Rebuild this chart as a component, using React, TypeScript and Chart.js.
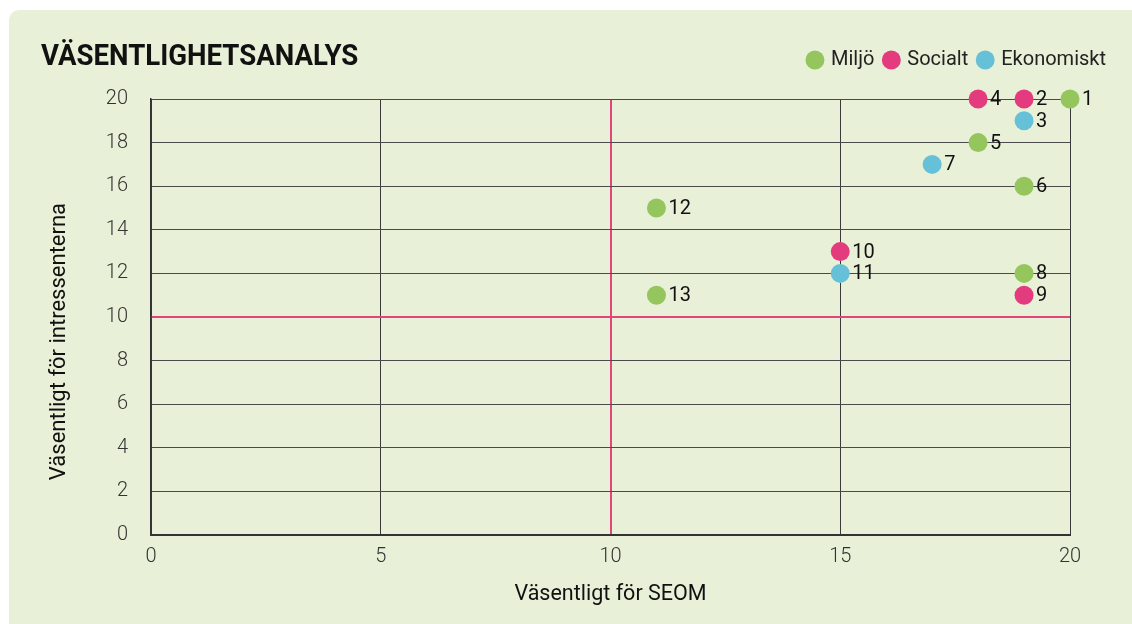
import React, { useEffect, useRef } from "react";
import { Chart, registerables } from "chart.js";

Chart.register(...registerables);

// ---- data ----
const CATEGORIES = ["Miljö", "Socialt", "Ekonomiskt"];
const COLORS = ["#95c55d", "#e43b7e", "#66c0d8"];

const MILJO_IDS = [1, 5, 6, 8, 12, 13];
const MILJO_X = [20, 18, 19, 19, 11, 11];
const MILJO_Y = [20, 18, 16, 12, 15, 11];

const SOCIALT_IDS = [2, 4, 9, 10];
const SOCIALT_X = [19, 18, 19, 15];
const SOCIALT_Y = [20, 20, 11, 13];

const EKONOMISKT_IDS = [3, 7, 11];
const EKONOMISKT_X = [19, 17, 15];
const EKONOMISKT_Y = [19, 17, 12];

const AXIS_MIN = 0;
const AXIS_MAX = 20;
const X_STEP = 5;
const Y_STEP = 2;
const THRESHOLD = 10;

const TITLE = "VÄSENTLIGHETSANALYS";
const X_TITLE = "Väsentligt för SEOM";
const Y_TITLE = "Väsentligt för intressenterna";

const PANEL_BG = "#e8f1d8";
const PINK_LINE = "#e0457b";
const GRID = "#3a3a3a";

const toPoints = (xs: number[], ys: number[], ids: number[]) =>
  xs.map((x, i) => ({ x, y: ys[i], id: ids[i] }));

const pointLabels = {
  id: "pointLabels",
  afterDatasetsDraw(chart: any) {
    const ctx = chart.ctx;
    ctx.save();
    ctx.font = "400 20px Roboto, sans-serif";
    ctx.fillStyle = "#111";
    ctx.textAlign = "left";
    ctx.textBaseline = "middle";
    chart.data.datasets.forEach((ds: any, di: number) => {
      const meta = chart.getDatasetMeta(di);
      meta.data.forEach((el: any, i: number) => {
        ctx.fillText(String(ds.data[i].id), el.x + 12, el.y + 1);
      });
    });
    ctx.restore();
  },
};

export default function App() {
  const ref = useRef<HTMLCanvasElement>(null);

  useEffect(() => {
    document.body.style.margin = "0";
    document.body.style.overflow = "hidden";
    const series = [
      toPoints(MILJO_X, MILJO_Y, MILJO_IDS),
      toPoints(SOCIALT_X, SOCIALT_Y, SOCIALT_IDS),
      toPoints(EKONOMISKT_X, EKONOMISKT_Y, EKONOMISKT_IDS),
    ];
    const tickFont = { family: "Roboto, sans-serif", size: 20, weight: "300" as any };
    const chart = new Chart(ref.current as HTMLCanvasElement, {
      type: "scatter",
      data: {
        datasets: CATEGORIES.map((name, i) => ({
          label: name,
          data: series[i],
          backgroundColor: COLORS[i],
          borderColor: COLORS[i],
          borderWidth: 0,
          pointRadius: 9.5,
          pointHoverRadius: 9.5,
          clip: false as any,
        })),
      },
      options: {
        responsive: false,
        animation: false,
        events: [],
        layout: { padding: { top: 29, right: 15, bottom: 0, left: 0 } },
        plugins: {
          tooltip: { enabled: false },
          title: { display: false },
          legend: {
            position: "top",
            align: "end",
            labels: {
              usePointStyle: true,
              pointStyle: "circle",
              boxWidth: 12,
              boxHeight: 13.4,
              padding: 11,
              color: "#222",
              font: { family: "Roboto, sans-serif", size: 20 },
            },
          },
        },
        scales: {
          x: {
            type: "linear",
            position: "bottom",
            min: AXIS_MIN,
            max: AXIS_MAX,
            ticks: { stepSize: X_STEP, padding: 10, color: "#333", font: tickFont },
            grid: {
              drawTicks: false,
              color: (c: any) => (c.tick && c.tick.value === THRESHOLD ? PINK_LINE : GRID),
              lineWidth: (c: any) => (c.tick && c.tick.value === THRESHOLD ? 2 : 1),
            },
            border: { display: true, color: "#333", width: 2 },
            title: {
              display: true,
              text: X_TITLE,
              color: "#111",
              font: { family: "Roboto, sans-serif", size: 21.5 },
              padding: { top: 0, bottom: 16 },
            },
            afterFit: (s: any) => {
              s.height = 89;
            },
          },
          xTop: {
            type: "linear",
            position: "top",
            display: true,
            grid: { display: false, drawTicks: false },
            ticks: { display: false },
            border: { display: false },
            afterFit: (s: any) => {
              s.height = 19;
            },
          },
          y: {
            type: "linear",
            position: "left",
            min: AXIS_MIN,
            max: AXIS_MAX,
            ticks: { stepSize: Y_STEP, padding: 23, color: "#333", font: tickFont },
            grid: {
              drawTicks: false,
              color: (c: any) => (c.tick && c.tick.value === THRESHOLD ? PINK_LINE : "#4a4a4a"),
              lineWidth: (c: any) => (c.tick && c.tick.value === THRESHOLD ? 2 : 1),
            },
            border: { display: true, color: "#333", width: 1.5 },
            title: {
              display: true,
              text: Y_TITLE + "         ",
              color: "#111",
              font: { family: "Roboto, sans-serif", size: 22 },
              padding: { top: 37, bottom: 0 },
            },
            afterFit: (s: any) => {
              s.width = 142;
            },
          },
          yRight: {
            type: "linear",
            position: "right",
            display: true,
            grid: { display: false, drawTicks: false },
            ticks: { display: false },
            border: { display: false },
            afterFit: (s: any) => {
              s.width = 47;
            },
          },
        },
      } as any,
      plugins: [pointLabels],
    });
    return () => chart.destroy();
  }, []);

  return (
    <div
      style={{
        position: "absolute",
        left: 9,
        top: 10,
        width: 1123,
        height: 614,
        background: PANEL_BG,
        borderTopLeftRadius: 10,
        overflow: "hidden",
      }}
    >
      <canvas ref={ref} width={1123} height={614} style={{ position: "absolute", left: 0, top: 0 }} />
      <div
        style={{
          position: "absolute",
          left: 32,
          top: 30,
          fontFamily: "Roboto, sans-serif",
          fontWeight: 700,
          fontSize: 30,
          lineHeight: "30px",
          color: "#111",
          transform: "scaleX(0.92)",
          transformOrigin: "left top",
          whiteSpace: "nowrap",
        }}
      >
        {TITLE}
      </div>
    </div>
  );
}
